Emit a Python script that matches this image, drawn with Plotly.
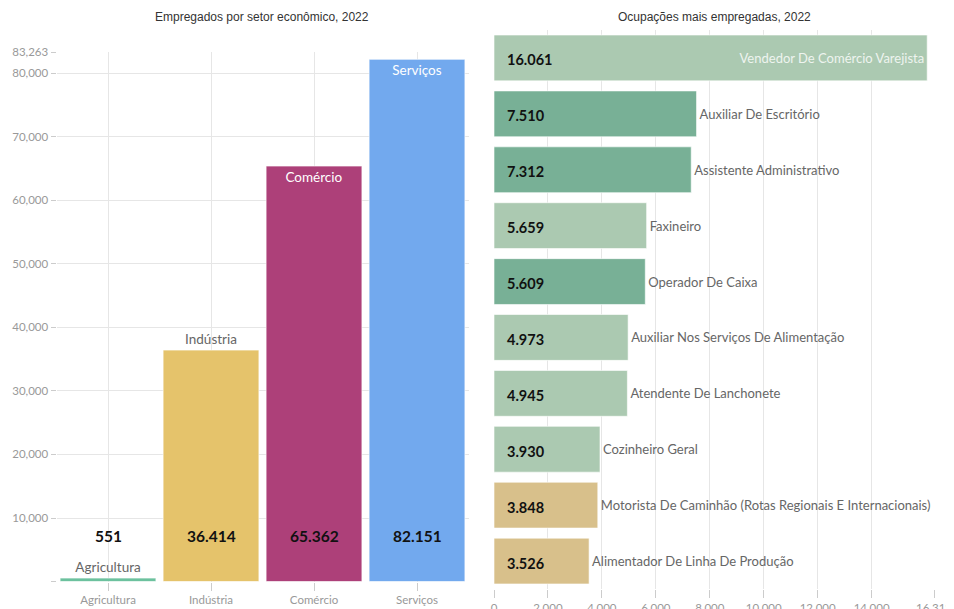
import plotly.graph_objects as go

# ---- data ----
setores = ["Agricultura", "Indústria", "Comércio", "Serviços"]
empregados = [551, 36414, 65362, 82151]
cores_setores = ["#6cc19e", "#e5c36b", "#ad4079", "#72a9ee"]

ocupacoes = [
    "Vendedor De Comércio Varejista",
    "Auxiliar De Escritório",
    "Assistente Administrativo",
    "Faxineiro",
    "Operador De Caixa",
    "Auxiliar Nos Serviços De Alimentação",
    "Atendente De Lanchonete",
    "Cozinheiro Geral",
    "Motorista De Caminhão (Rotas Regionais E Internacionais)",
    "Alimentador De Linha De Produção",
]
ocup_valores = [16061, 7510, 7312, 5659, 5609, 4973, 4945, 3930, 3848, 3526]
ocup_grupo = ["claro", "escuro", "escuro", "claro", "escuro", "claro", "claro", "claro", "bege", "bege"]
cores_grupo = {"claro": "#abc9b1", "escuro": "#78b096", "bege": "#d8c08b"}

y_max_left = 83263
y_ticks_left = [0, 10000, 20000, 30000, 40000, 50000, 60000, 70000, 80000, 83263]
x_max_right = 16313
x_ticks_right = [0, 2000, 4000, 6000, 8000, 10000, 12000, 14000, 16313]

FONT = "Lato"
TITLE_FONT = "Liberation Sans"

# page has an 8px body margin; figure is laid out in its own pixel space
W, H = 946, 601
OFF = 8


def px_x(x):
    return (x - OFF) / W


def px_y(y):
    return 1 - (y - OFF) / H


def br(v):
    return f"{v:,}".replace(",", ".")


def us(v):
    return f"{v:,}"


fig = go.Figure()

# ---- left chart ----
left_pos = ["outside", "outside", "inside", "inside"]
fig.add_trace(go.Bar(
    x=setores, y=empregados, xaxis="x", yaxis="y",
    marker=dict(color=cores_setores, line=dict(color="rgba(255,255,255,0.6)", width=1)),
    text=setores, textposition=left_pos, insidetextanchor="end", textangle=0,
    insidetextfont=dict(family=FONT, size=13.5, color="white"),
    outsidetextfont=dict(family=FONT, size=13.5, color="#666"),
    cliponaxis=False, showlegend=False, hoverinfo="x+y",
))

# ---- right chart ----
right_pos = ["inside"] + ["outside"] * (len(ocupacoes) - 1)
fig.add_trace(go.Bar(
    y=ocupacoes, x=ocup_valores, orientation="h", xaxis="x2", yaxis="y2",
    marker=dict(color=[cores_grupo[g] for g in ocup_grupo],
                line=dict(color="rgba(255,255,255,0.6)", width=1)),
    text=ocupacoes, textposition=right_pos, insidetextanchor="end", textangle=0,
    insidetextfont=dict(family=FONT, size=13, color="#eef4ef"),
    outsidetextfont=dict(family=FONT, size=13, color="#666"),
    cliponaxis=False, showlegend=False, hoverinfo="x+y",
))

annotations = []
for s, v in zip(setores, empregados):
    annotations.append(dict(x=s, y=7200, xref="x", yref="y", text=f"<b>{br(v)}</b>",
                            showarrow=False, font=dict(family=FONT, size=15.5, color="#111")))
for o, v in zip(ocupacoes, ocup_valores):
    annotations.append(dict(x=420, y=o, xref="x2", yref="y2", text=f"<b>{br(v)}</b>",
                            xanchor="left", yshift=-2, showarrow=False,
                            font=dict(family=FONT, size=14.5, color="#111")))
annotations.append(dict(x=px_x(262), y=px_y(17), xref="paper", yref="paper",
                        xanchor="center", yanchor="middle",
                        text="Empregados por setor econômico, 2022", showarrow=False,
                        font=dict(family=TITLE_FONT, size=12, color="#333")))
annotations.append(dict(x=px_x(714), y=px_y(17), xref="paper", yref="paper",
                        xanchor="center", yanchor="middle",
                        text="Ocupações mais empregadas, 2022", showarrow=False,
                        font=dict(family=TITLE_FONT, size=12, color="#333")))

fig.update_layout(
    width=W, height=H,
    margin=dict(l=0, r=0, t=0, b=0, autoexpand=False),
    paper_bgcolor="white", plot_bgcolor="white",
    bargap=0.07,
    annotations=annotations,
    xaxis=dict(domain=[px_x(56.5), px_x(468.5)], showgrid=True, gridcolor="#e6e6e6",
               ticks="outside", ticklen=8, tickcolor="#ccc", showline=False,
               automargin=False,
               tickfont=dict(family=FONT, size=11.5, color="#999"), zeroline=False),
    yaxis=dict(domain=[px_y(581.6), px_y(52.3)], range=[0, y_max_left],
               tickvals=y_ticks_left,
               ticktext=["" if v == 0 else us(v) for v in y_ticks_left],
               showgrid=True, gridcolor="#e6e6e6", ticks="outside", ticklen=5,
               tickcolor="#ccc", zeroline=False, showline=False, automargin=False,
               tickfont=dict(family=FONT, size=11.5, color="#999")),
    xaxis2=dict(domain=[px_x(494), px_x(934)], range=[0, x_max_right], anchor="y2",
                tickvals=x_ticks_right, ticktext=[us(v) for v in x_ticks_right],
                showgrid=True, gridcolor="#e6e6e6", ticks="outside", ticklen=8,
                tickcolor="#ccc", zeroline=False, showline=False, automargin=False,
                tickfont=dict(family=FONT, size=11.5, color="#999")),
    yaxis2=dict(domain=[px_y(589), px_y(30)], anchor="x2", autorange="reversed",
                showticklabels=False, showgrid=False, ticks="", zeroline=False,
                automargin=False),
)
fig.update_traces(selector=dict(orientation="h"), width=0.82)

fig.write_html("out.html")
